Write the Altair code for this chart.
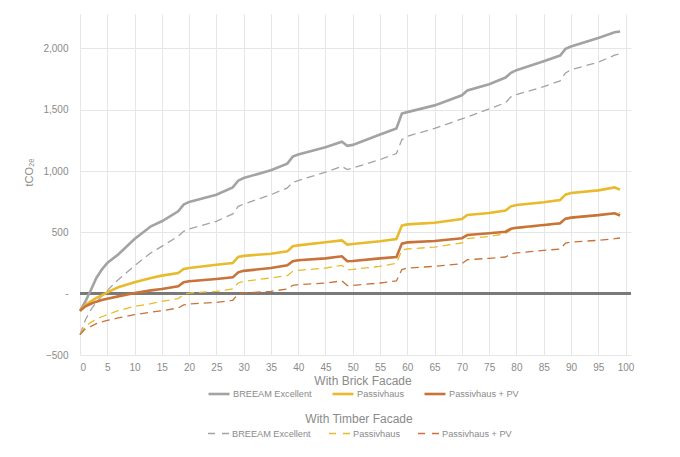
import altair as alt
import pandas as pd

years = [0, 1, 2, 3, 4, 5, 7, 10, 13, 15, 18, 19, 20, 25, 28, 29, 30, 35, 38, 39, 40,
         45, 48, 49, 50, 55, 58, 59, 60, 65, 70, 71, 75, 78, 79, 80, 85, 88, 89, 90,
         95, 98, 99]

brick_breeam = [-140, -63, 30, 128, 196, 250, 320, 445, 549, 590, 671, 726, 748, 807, 867,
                921, 943, 1006, 1060, 1117, 1134, 1193, 1238, 1205, 1213, 1297, 1346, 1468,
                1480, 1535, 1617, 1656, 1708, 1762, 1800, 1822, 1895, 1941, 1996, 2015,
                2085, 2132, 2138]
brick_passivhaus = [-140, -92, -63, -35, -14, 11, 52, 93, 128, 147, 168, 201, 209, 236, 250,
                    299, 308, 326, 345, 386, 394, 419, 434, 400, 405, 427, 446, 555, 565,
                    578, 609, 642, 658, 677, 712, 723, 745, 764, 807, 821, 842, 866, 848]
brick_pv = [-140, -103, -82, -65, -52, -41, -22, 5, 27, 38, 60, 93, 101, 120, 133, 174, 186,
            209, 231, 264, 272, 288, 305, 264, 266, 288, 298, 408, 418, 430, 452, 478, 492,
            505, 530, 538, 560, 574, 612, 620, 640, 655, 638]

timber_breeam = [-334, -212, -130, -70, -20, 25, 114, 228, 333, 386, 468, 508, 527, 590, 650,
                 712, 730, 807, 862, 908, 922, 990, 1038, 1011, 1025, 1093, 1142, 1256, 1283,
                 1347, 1425, 1440, 1506, 1557, 1604, 1623, 1688, 1735, 1800, 1825, 1887,
                 1944, 1956]
timber_passivhaus = [-334, -266, -234, -207, -188, -171, -139, -103, -82, -63, -40, -8, 5, 19,
                     38, 87, 101, 128, 147, 182, 190, 209, 231, 196, 198, 223, 248, 355, 364,
                     380, 413, 449, 467, 489, 522, 530, 555, 570, 605, 615, 640, 655, 660]
timber_pv = [-334, -285, -266, -245, -230, -218, -198, -171, -150, -139, -117, -92, -84, -71,
             -54, -3, 5, 19, 38, 68, 73, 87, 104, 66, 68, 87, 104, 196, 209, 223, 245, 277,
             288, 299, 324, 332, 353, 364, 413, 421, 435, 448, 454]

series_names = ["BREEAM Excellent", "Passivhaus", "Passivhaus + PV"]
colors = ["#a3a3a3", "#e8ba2c", "#c8733a"]

rows = []
for facade, lists in [("Brick", [brick_breeam, brick_passivhaus, brick_pv]),
                      ("Timber", [timber_breeam, timber_passivhaus, timber_pv])]:
    for name, vals in zip(series_names, lists):
        for yr, v in zip(years, vals):
            rows.append({"year": yr, "value": v, "facade": facade, "series": name})
df = pd.DataFrame(rows)

FONT = "Liberation Sans"
GREY = "#8a8a8a"

x = alt.X("year:Q", scale=alt.Scale(domain=[0, 101], nice=False),
          axis=alt.Axis(values=list(range(0, 101, 5)), title=None, grid=True,
                        domain=False, ticks=False, labelPadding=7))
y = alt.Y("value:Q", scale=alt.Scale(domain=[-500, 2280], nice=False),
          axis=alt.Axis(values=[-500, 0, 500, 1000, 1500, 2000], title="tCO₂ₑ",
                        labelExpr="datum.value == 0 ? '-' : format(datum.value, ',')",
                        domain=False, ticks=False, labelPadding=12, grid=True,
                        titleX=-46, titleY=158, titleFontSize=11,
                        titleFontWeight="normal", titleColor=GREY))

zero = alt.Chart(df).mark_rule(color="#7a7a7a", strokeWidth=1.8).encode(y=alt.datum(0))

timber = alt.Chart(df).transform_filter("datum.facade == 'Timber'").mark_line(
    strokeWidth=1.3, strokeDash=[8, 5]
).encode(
    x=x, y=y,
    color=alt.Color("series:N", scale=alt.Scale(domain=series_names, range=colors),
                    legend=alt.Legend(title="With Timber Facade", orient="none",
                                      legendX=127, legendY=400, direction="horizontal",
                                      titleAnchor="middle", symbolType="stroke",
                                      symbolStrokeWidth=1.3, symbolSize=440,
                                      symbolDash=[7, 7], columnPadding=15,
                                      gridAlign="none",
                                      labelOffset=2, titlePadding=-4)),
)

brick = alt.Chart(df).transform_filter("datum.facade == 'Brick'").mark_line(
    strokeWidth=2.6
).encode(
    x=x, y=y,
    color=alt.Color("series:N", scale=alt.Scale(domain=series_names, range=colors),
                    legend=alt.Legend(title="With Brick Facade", orient="none",
                                      legendX=127, legendY=362, direction="horizontal",
                                      titleAnchor="middle", symbolType="stroke",
                                      symbolStrokeWidth=2.6, symbolSize=440,
                                      gridAlign="none",
                                      columnPadding=15, labelOffset=2, titlePadding=-6)),
)

chart = alt.layer(zero, timber, brick).resolve_scale(color="independent").properties(
    width=551, height=341,
    autosize=alt.AutoSizeParams(type="none"),
    padding={"left": 72, "top": 6, "right": 40, "bottom": 94},
).configure_view(stroke=None).configure_axis(
    labelFont=FONT, labelFontSize=10, labelColor=GREY, gridColor="#e6e6e6",
    titleFont=FONT,
).configure_legend(
    labelFont=FONT, labelFontSize=9.2, labelColor=GREY, titleFont=FONT,
    titleFontSize=12, titleFontWeight="normal", titleColor=GREY, symbolOpacity=1,
)

chart.save("out.html", embed_options={"renderer": "svg", "actions": False})
